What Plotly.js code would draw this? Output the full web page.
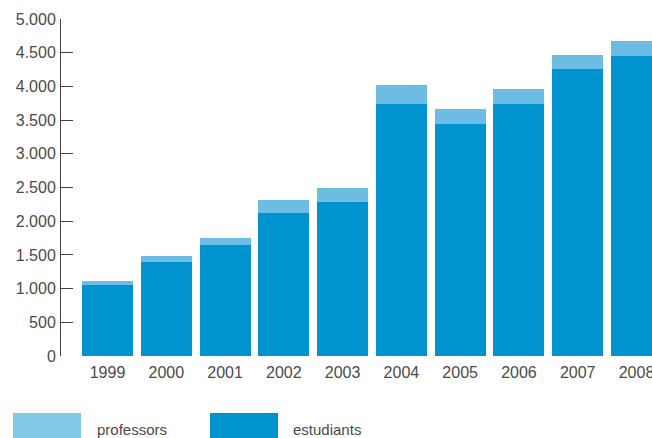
<!DOCTYPE html>
<html>
<head>
<meta charset="utf-8">
<script src="https://cdn.plot.ly/plotly-3.0.1.min.js"></script>
<style>
html,body{margin:0;padding:0;background:#fff;overflow:hidden;}
#chart{width:652px;height:438px;}
</style>
</head>
<body>
<div id="chart"></div>
<script>
var years = ['1999','2000','2001','2002','2003','2004','2005','2006','2007','2008'];
var estudiants = [1050, 1400, 1645, 2120, 2285, 3740, 3440, 3740, 4255, 4450];
var professors = [60, 80, 105, 195, 210, 280, 225, 220, 210, 225];
var seriesNames = ['professors', 'estudiants'];
var yTicks = [0, 500, 1000, 1500, 2000, 2500, 3000, 3500, 4000, 4500, 5000];

var cEst = '#0093d0';
var cProf = '#6cbce4';
var cProfLegend = '#82cbe8';
var txt = '#4a4a4a';
var fontFam = '"Liberation Sans", Arial, sans-serif';

var traces = [
  {type:'bar', x: years, y: estudiants, name: seriesNames[1], marker:{color:cEst, line:{width:0}}, hoverinfo:'skip'},
  {type:'bar', x: years, y: professors, name: seriesNames[0], marker:{color:cProf, line:{width:0}}, hoverinfo:'skip'}
];

// plot area: x 61..652 px, y 19..356 px
function px2x(p){ return (p-61)/591; }
function py2y(p){ return (356-p)/337; }

var layout = {
  width: 652, height: 438,
  margin: {l:61, r:0, t:19, b:82, pad:0},
  paper_bgcolor:'#fff', plot_bgcolor:'#fff',
  barmode:'stack',
  bargap: 0.132,
  showlegend:false,
  separators: ',.',
  font:{family:fontFam, size:16, color:txt},
  xaxis:{
    type:'category',
    range:[-0.7915, 9.264],
    showline:false, showgrid:false, zeroline:false,
    ticks:'',
    ticklabelstandoff: 5,
    tickfont:{family:fontFam, size:16, color:txt},
    fixedrange:true
  },
  yaxis:{
    range:[0,5000],
    tickvals: yTicks,
    tickformat: ',d',
    showline:true, linecolor:'#444', linewidth:1,
    showgrid:false, zeroline:false,
    ticks:'inside', ticklen:12, tickwidth:1, tickcolor:'#444',
    ticklabelstandoff: 1,
    tickfont:{family:fontFam, size:16, color:txt},
    fixedrange:true
  },
  shapes:[
    {type:'rect', xref:'paper', yref:'paper', x0:px2x(13), x1:px2x(81), y0:py2y(438), y1:py2y(413), fillcolor:cProfLegend, line:{width:0}},
    {type:'rect', xref:'paper', yref:'paper', x0:px2x(210), x1:px2x(278), y0:py2y(438), y1:py2y(413), fillcolor:cEst, line:{width:0}}
  ],
  annotations:[
    {xref:'paper', yref:'paper', x:px2x(95), y:py2y(429), xanchor:'left', yanchor:'middle', text:seriesNames[0], showarrow:false, font:{family:fontFam, size:15, color:txt}},
    {xref:'paper', yref:'paper', x:px2x(291), y:py2y(429), xanchor:'left', yanchor:'middle', text:seriesNames[1], showarrow:false, font:{family:fontFam, size:15, color:txt}}
  ]
};

Plotly.newPlot('chart', traces, layout, {displayModeBar:false, staticPlot:true});
</script>
</body>
</html>
